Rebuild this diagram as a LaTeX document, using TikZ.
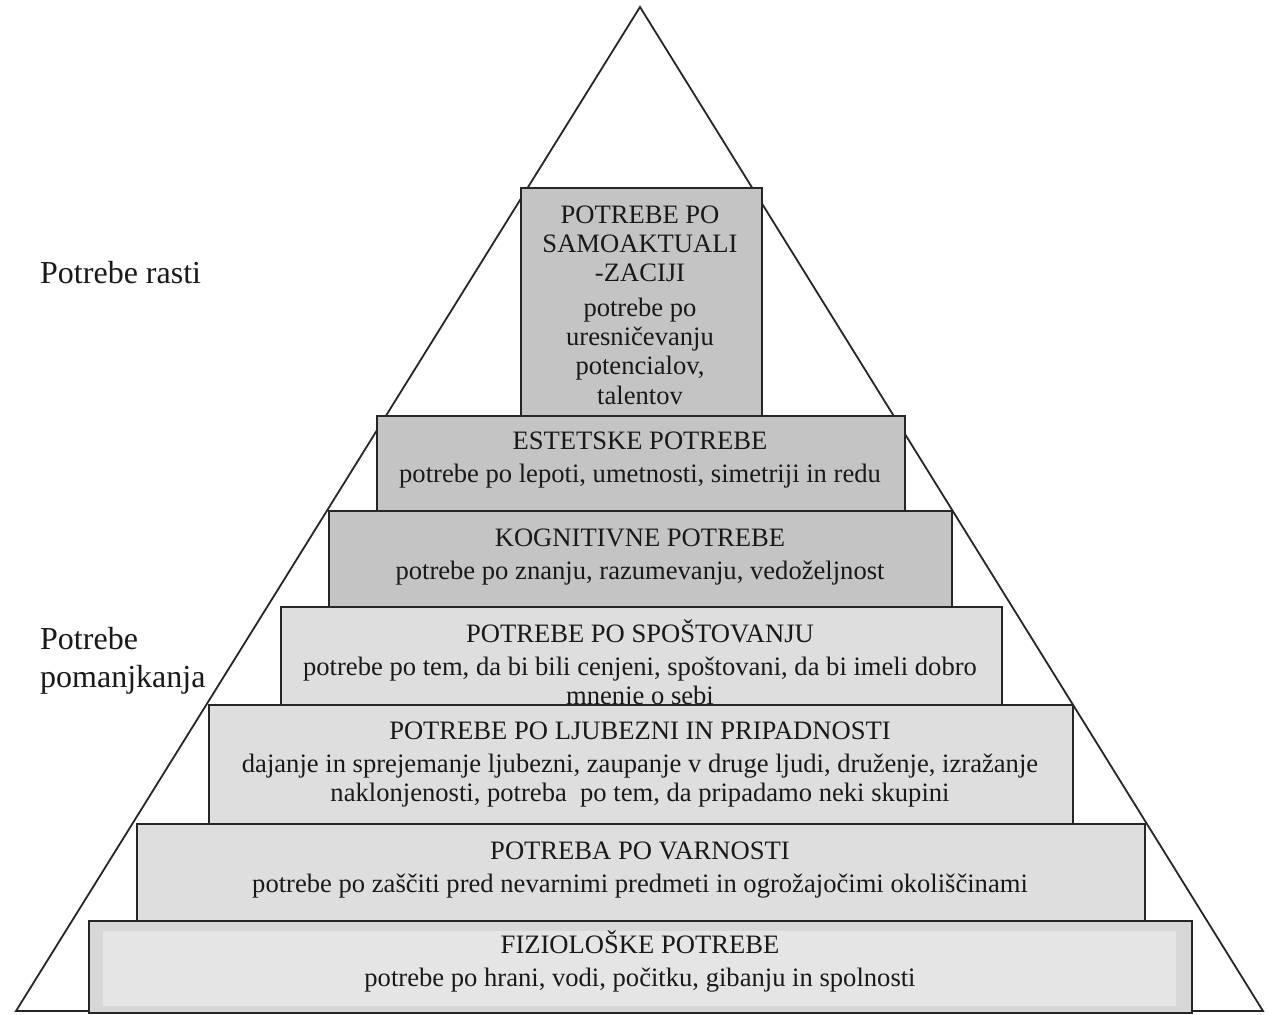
\documentclass[tikz,border=0pt]{standalone}
\usepackage{fontspec}
\setmainfont{Liberation Serif}
\begin{document}
\begin{tikzpicture}[x=1pt,y=-1pt,
  tier/.style={draw=black!85, line width=1.6pt, rectangle, inner sep=0pt, anchor=north west},
  upper/.style={tier, fill=gray!46},
  lower/.style={tier, fill=gray!26},
  caption/.style={anchor=north, inner sep=0pt, align=center,
    font=\fontsize{26.6}{29.3}\selectfont, text=black!90},
  side/.style={anchor=north west, inner sep=0pt, align=left,
    font=\fontsize{32}{38}\selectfont, text=black!90}
]
\useasboundingbox (0,0) rectangle (1268,1014);

% outer triangle behind the tiers
\coordinate (apex) at (640,7);
\coordinate (baseL) at (16,1011);
\coordinate (baseR) at (1263,1011);
\draw[line width=1.8pt, black!85, line join=miter] (baseL) -- (apex) -- (baseR) -- cycle;

% self-actualisation
\node[upper, minimum width=241pt, minimum height=229pt] (selfbox) at (520,187) {};
\node[caption] (selftext) at (640,198) {\rule{0pt}{25pt}POTREBE PO\\SAMOAKTUALI\\-ZACIJI\\[5pt]potrebe po\\uresničevanju\\potencialov,\\talentov};

% aesthetic
\node[upper, minimum width=528pt, minimum height=95pt] (aesbox) at (376,415) {};
\node[caption] (aestext) at (640,424) {\rule{0pt}{25pt}ESTETSKE POTREBE\\[3.5pt]potrebe po lepoti, umetnosti, simetriji in redu};

% cognitive
\node[upper, minimum width=623pt, minimum height=96pt] (cogbox) at (328,510) {};
\node[caption] (cogtext) at (640,521) {\rule{0pt}{25pt}KOGNITIVNE POTREBE\\[3.5pt]potrebe po znanju, razumevanju, vedoželjnost};

% esteem
\node[lower, minimum width=721pt, minimum height=98pt] (estbox) at (280,606) {};
\node[caption] (esttext) at (640,617) {\rule{0pt}{25pt}POTREBE PO SPOŠTOVANJU\\[3.5pt]potrebe po tem, da bi bili cenjeni, spoštovani, da bi imeli dobro\\mnenje o sebi};

% love and belonging
\node[lower, minimum width=864pt, minimum height=119pt] (lovebox) at (208,704) {};
\node[caption] (lovetext) at (640,714) {\rule{0pt}{25pt}POTREBE PO LJUBEZNI IN PRIPADNOSTI\\[3.5pt]dajanje in sprejemanje ljubezni, zaupanje v druge ljudi, druženje, izražanje\\naklonjenosti, potreba\ \ po tem, da pripadamo neki skupini};

% safety
\node[lower, minimum width=1008pt, minimum height=97pt] (safebox) at (136,823) {};
\node[caption] (safetext) at (640,834) {\rule{0pt}{25pt}POTREBA PO VARNOSTI\\[3.5pt]potrebe po zaščiti pred nevarnimi predmeti in ogrožajočimi okoliščinami};

% physiological
\node[tier, fill=gray!31, minimum width=1103pt, minimum height=92pt] (physbox) at (88,920) {};
\node[anchor=north west, inner sep=0pt, fill=gray!20, minimum width=1073pt, minimum height=75pt] (physinner) at (103,931) {};
\node[caption] (phystext) at (640,928) {\rule{0pt}{25pt}FIZIOLOŠKE POTREBE\\[3.5pt]potrebe po hrani, vodi, počitku, gibanju in spolnosti};

% side labels
\node[side] (growth) at (40,257) {\rule{0pt}{26pt}Potrebe rasti};
\node[side] (deficit) at (40,623) {\rule{0pt}{26pt}Potrebe\\pomanjkanja};
\end{tikzpicture}
\end{document}
